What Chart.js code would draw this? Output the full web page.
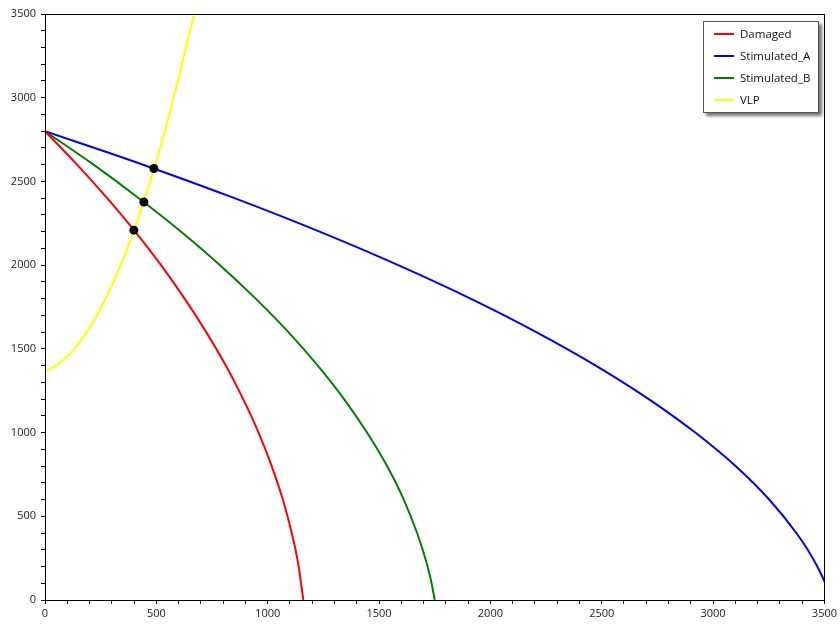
<!DOCTYPE html>
<html>
<head>
<meta charset="utf-8">
<script src="https://cdn.jsdelivr.net/npm/chart.js@4/dist/chart.umd.min.js"></script>
<style>
  html, body { margin: 0; padding: 0; background: #fff; }
  #wrap { position: relative; width: 840px; height: 630px; }
  #legend {
    position: absolute; left: 703px; top: 21px; width: 114px; height: 90px;
    border: 1px solid #555; background: #fff;
    box-shadow: 3px 3px 3px rgba(0,0,0,0.55);
    font-family: "Open Sans", sans-serif; font-size: 11.5px; color: #111;
  }
  .row { position: absolute; left: 0; height: 22px; line-height: 22px; }
  .row i { position: absolute; left: 10px; top: 10px; width: 20px; height: 2px; }
  .row span { position: absolute; left: 36px; white-space: nowrap; }
</style>
</head>
<body>
<div id="wrap">
  <canvas id="iprChart" width="840" height="630"></canvas>
  <div id="legend"></div>
</div>
<script>
// ------ data ------//
var pwf = [2800, 2600, 2400, 2200, 2000, 1800, 1600, 1400, 1200, 1000, 800, 600, 400, 300, 200, 100, 0]
var damagedQ = [0, 144, 279, 405, 521, 627, 724, 812, 890, 959, 1018, 1068, 1108, 1125, 1139, 1150, 1160]
var stimAQ = [0, 440, 851, 1233, 1586, 1911, 2206, 2473, 2711, 2920, 3101, 3252, 3374, 3425, 3468, 3504, 3533]
var stimBQ = [0, 218, 421, 611, 786, 946, 1093, 1225, 1343, 1446, 1536, 1611, 1671, 1696, 1718, 1736, 1750]

var vlpQ = [0, 50, 100, 150, 200, 250, 300, 350, 400, 450, 500, 550, 600, 650, 670]
var vlpP = [1365, 1400, 1455, 1530, 1626, 1742, 1877, 2033, 2210, 2407, 2624, 2860, 3118, 3396, 3500]

// operating points (IPR x VLP)
var opQ = [399, 444, 489]
var opP = [2209, 2377, 2577]

var seriesNames = ['Damaged', 'Stimulated_A', 'Stimulated_B', 'VLP']
var seriesColors = ['#ff0000', '#0000ff', '#008000', '#ffff00']

function pts(xs, ys) {
	return xs.map(function (x, i) { return { x: x, y: ys[i] } })
}

var curves = [pts(damagedQ, pwf), pts(stimAQ, pwf), pts(stimBQ, pwf), pts(vlpQ, vlpP)]

var datasets = curves.map(function (d, i) {
	return {
		label: seriesNames[i],
		data: d,
		showLine: true,
		borderColor: seriesColors[i],
		backgroundColor: seriesColors[i],
		borderWidth: 2,
		pointRadius: 0,
		cubicInterpolationMode: 'monotone',
	}
})
datasets.push({
	label: 'op',
	data: pts(opQ, opP),
	showLine: false,
	order: -1, // on top of the curves
	pointRadius: 4.5,
	pointHoverRadius: 4.5,
	backgroundColor: '#000',
	borderColor: '#000',
	borderWidth: 0,
})

// frame around plot area
var frame = {
	id: 'frame',
	afterDraw: function (chart) {
		var a = chart.chartArea, c = chart.ctx
		c.save()
		c.strokeStyle = '#000'
		c.lineWidth = 1
		c.strokeRect(Math.round(a.left) + 0.5, Math.round(a.top) + 0.5,
			Math.round(a.right - a.left), Math.round(a.bottom - a.top))
		c.restore()
	}
}

function axisOpts(fit) {
	return {
		type: 'linear',
		min: 0,
		max: 3500,
		afterFit: fit,
		border: { display: true, color: '#000', width: 1 },
		grid: {
			drawOnChartArea: false,
			drawTicks: true,
			tickLength: 4,
			tickColor: '#000',
		},
		ticks: {
			stepSize: 100,
			autoSkip: false,
			maxRotation: 0,
			color: '#222',
			font: { family: 'Open Sans', size: 11 },
			callback: function (v) { return v % 500 === 0 ? String(v) : '' }
		}
	}
}

var xAxis = axisOpts(function (s) { s.height = 30 })
xAxis.ticks.padding = 3
var yAxis = axisOpts(function (s) { s.width = 45 })
yAxis.ticks.padding = 5

var ctx = document.getElementById('iprChart')
var myChart = new Chart(ctx, {
	type: 'scatter',
	data: { datasets: datasets },
	options: {
		responsive: false,
		animation: false,
		layout: { padding: { top: 14, right: 15, left: 0, bottom: 0 } },
		plugins: {
			legend: { display: false },
			tooltip: { enabled: false },
		},
		scales: { x: xAxis, y: yAxis },
	},
	plugins: [frame]
})

// legend box
var lg = document.getElementById('legend')
seriesNames.forEach(function (name, i) {
	var row = document.createElement('div')
	row.className = 'row'
	row.style.top = (1 + i * 22) + 'px'
	row.innerHTML = '<i style="background:' + seriesColors[i] + '"></i><span>' + name + '</span>'
	lg.appendChild(row)
})
</script>
</body>
</html>
